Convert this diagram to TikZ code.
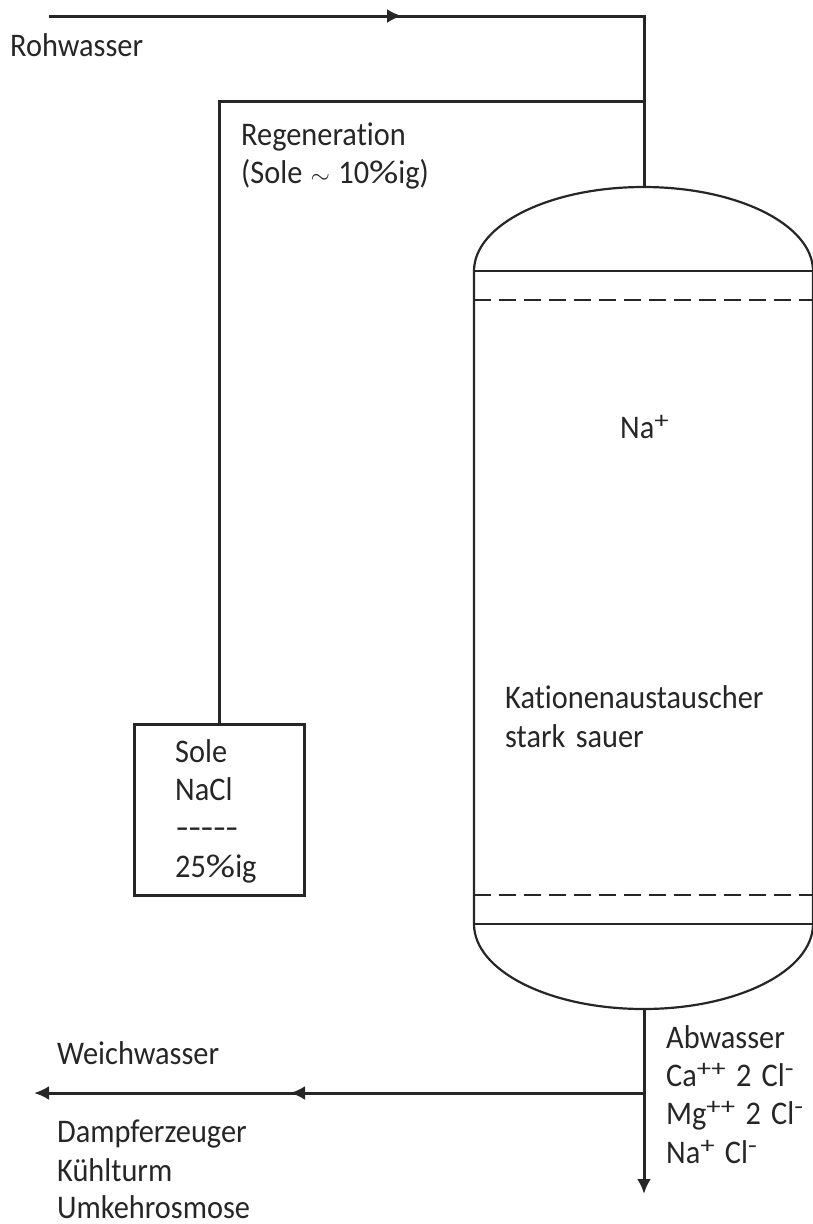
\documentclass[tikz,border=0pt]{standalone}
\usepackage{fontspec}
\usepackage{graphicx}
\setmainfont[FakeStretch=0.92,Ligatures=NoCommon,WordSpace=1.5]{Carlito}
\usetikzlibrary{arrows.meta}
\tikzset{
  pipe/.style={line width=3pt,color=black!85},
  shell/.style={line width=2.2pt,color=black!85},
  dashline/.style={line width=2.2pt,color=black!85,dash pattern=on 17pt off 8pt},
  flow/.style={-{Latex[length=15pt,width=14pt]}},
  lbl/.style={anchor=base west,inner sep=0pt,font=\fontsize{33}{36}\selectfont,color=black!85},
  tank/.style={draw,line width=3pt,color=black!85,minimum width=170pt,minimum height=171pt,inner sep=0pt}
}
\newcommand{\sps}[1]{\raisebox{0.3em}{\fontsize{24}{24}\selectfont\scalebox{1.3}[1]{#1}}}
\newcommand{\pct}{\scalebox{1.35}[1]{\%}}
\begin{document}
\begin{tikzpicture}[x=1pt,y=-1pt]
\useasboundingbox (0,0) rectangle (813,1224);
% named points
\coordinate (start) at (49,16);
\coordinate (midtop) at (402,16);
\coordinate (corner) at (644,16);
\coordinate (branch) at (644,101);
\coordinate (bcorner) at (219,101);
\coordinate (domeT) at (644,187);
\coordinate (vTL) at (474,271);
\coordinate (vTR) at (813,271);
\coordinate (vBL) at (474,924);
\coordinate (vBR) at (813,924);
\coordinate (domeB) at (644,1009);
\coordinate (junction) at (644,1093);
\coordinate (midout) at (290,1093);
\coordinate (softend) at (34,1093);
\coordinate (wasteend) at (644,1194);
\node[tank] (box) at (219,809.5) {};
% vessel
\draw[shell] (vBL) -- (vTL) arc[start angle=180,end angle=360,x radius=169.5,y radius=84] -- (vBR) arc[start angle=0,end angle=180,x radius=169.5,y radius=85];
\draw[shell] (vTL) -- (vTR);
\draw[shell] (vBL) -- (vBR);
\draw[dashline] (474,300) -- (813,300);
\draw[dashline] (474,895) -- (813,895);
% pipes
\draw[pipe] (start) -- (corner) -- (branch) -- (domeT);
\draw[pipe,flow] (start) -- (midtop);
\draw[pipe] (branch) -- (bcorner) -- (box.north -| bcorner);
\draw[pipe,flow] (domeB) -- (wasteend);
\draw[pipe,flow] (junction) -- (softend);
\draw[pipe,flow] (junction) -- (midout);
% labels
\node[lbl] (roh) at (10,56) {Rohwasser};
\node[lbl] (reg) at (241,145) {Regeneration};
\node[lbl] (regb) at (241,183) {(Sole\hspace{-2pt} $\sim$\hspace{-2pt} 10\pct ig)};
\node[lbl] (na) at (620,438) {Na\sps{+}};
\node[lbl] (kat) at (505,708) {Kationenaustauscher};
\node[lbl] (sta) at (505,747) {stark sauer};
\node[lbl] (s1) at (175,762) {Sole};
\node[lbl] (s2) at (175,800) {NaCl};
\node[lbl] (s3) at (176,838) {\scalebox{1.33}[1]{{-}{-}{-}{-}{-}}};
\node[lbl] (s4) at (175,877) {25\pct ig};
\node[lbl] (w) at (57,1064) {Weichwasser};
\node[lbl] (d) at (57,1142) {Dampferzeuger};
\node[lbl] (k) at (57,1181) {Kühlturm};
\node[lbl] (u) at (57,1218) {Umkehrosmose};
\node[lbl] (a0) at (666,1048) {Abwasser};
\node[lbl] (a1) at (666,1086) {Ca\sps{++} 2 Cl\sps{-}};
\node[lbl] (a2) at (666,1124) {Mg\sps{++} 2 Cl\sps{-}};
\node[lbl] (a3) at (666,1163) {Na\sps{+} Cl\sps{-}};
\end{tikzpicture}
\end{document}
